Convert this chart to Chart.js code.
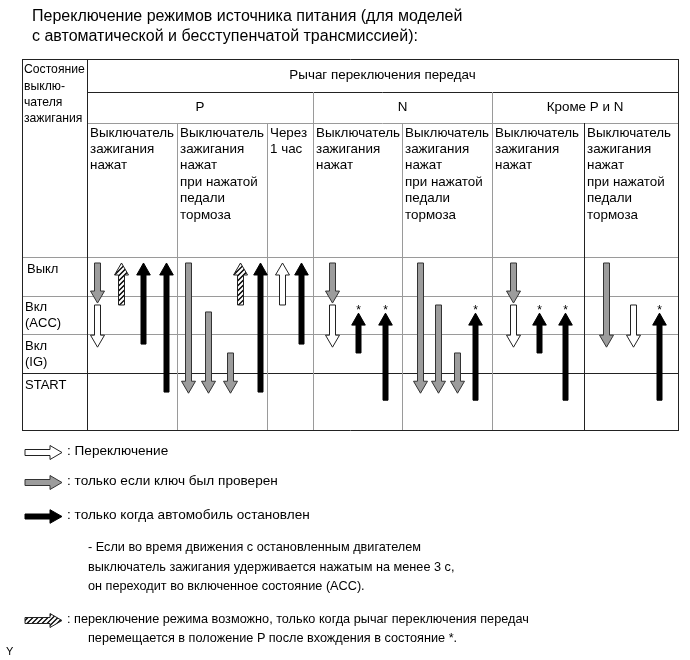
<!DOCTYPE html>
<html>
<head>
<meta charset="utf-8">
<script src="https://cdn.jsdelivr.net/npm/chart.js@4"></script>
<style>
    body { margin: 0; background: #fff; font-family: "Liberation Sans", Arial, sans-serif; color: #000; }
    #wrap { position: relative; width: 690px; height: 660px; overflow: hidden; }
    #myChart { position: absolute; left: 0; top: 0; }
    .t { position: absolute; white-space: nowrap; }
    .title { left: 32px; top: 6px; font-size: 16px; line-height: 20px; }
    .leg { left: 67px; font-size: 12.7px; line-height: 19.5px; }
    .big { font-size: 13.6px; }
</style>
</head>
<body>
<div id="wrap">
    <canvas id="myChart" width="690" height="660"></canvas>
    <div class="t title">Переключение режимов источника питания (для моделей<br>с автоматической и бесступенчатой трансмиссией):</div>
    <div class="t leg big" style="top:441px">: Переключение</div>
    <div class="t leg big" style="top:471px">: только если ключ был проверен</div>
    <div class="t leg big" style="top:505px">: только когда автомобиль остановлен</div>
    <div class="t leg" style="top:538px;left:88px">- Если во время движения с остановленным двигателем<br>выключатель зажигания удерживается нажатым на менее 3 с,<br>он переходит во включенное состояние (ACC).</div>
    <div class="t leg" style="top:610px">: переключение режима возможно, только когда рычаг переключения передач</div>
    <div class="t leg" style="top:629px;left:88px">перемещается в положение P после вхождения в состояние *.</div>
    <div class="t" style="left:6px;top:645px;font-size:11px">Y</div>
</div>
<script>
// Table content
var leverTitle = 'Рычаг переключения передач';
var stateTitle = ['Состояние', 'выклю-', 'чателя', 'зажигания'];
var states = [['Выкл'], ['Вкл', '(ACC)'], ['Вкл', '(IG)'], ['START']];
var leverGroups = ['P', 'N', 'Кроме P и N'];
var subColumns = [
    ['Выключатель', 'зажигания', 'нажат'],
    ['Выключатель', 'зажигания', 'нажат', 'при нажатой', 'педали', 'тормоза'],
    ['Через', '1 час'],
    ['Выключатель', 'зажигания', 'нажат'],
    ['Выключатель', 'зажигания', 'нажат', 'при нажатой', 'педали', 'тормоза'],
    ['Выключатель', 'зажигания', 'нажат'],
    ['Выключатель', 'зажигания', 'нажат', 'при нажатой', 'педали', 'тормоза']
];

// Arrows: x along the table, from -> to on the state axis (0 = Выкл, 1 = ACC, 2 = IG, 3 = START)
var whiteArrows = [
    { x: 75, from: 1.24, to: 2.33 },
    { x: 260, from: 1.24, to: 0.155 },
    { x: 310, from: 1.24, to: 2.33 },
    { x: 491, from: 1.24, to: 2.33 },
    { x: 611, from: 1.24, to: 2.33 }
];
var grayArrows = [
    { x: 75, from: 0.155, to: 1.19 },
    { x: 166, from: 0.155, to: 3.52 },
    { x: 186, from: 1.42, to: 3.52 },
    { x: 208, from: 2.48, to: 3.52 },
    { x: 310, from: 0.155, to: 1.19 },
    { x: 398, from: 0.155, to: 3.52 },
    { x: 416, from: 1.24, to: 3.52 },
    { x: 435, from: 2.48, to: 3.52 },
    { x: 491, from: 0.155, to: 1.19 },
    { x: 584, from: 0.155, to: 2.33 }
];
var blackArrows = [
    { x: 121, from: 2.25, to: 0.155 },
    { x: 144, from: 3.49, to: 0.155 },
    { x: 238, from: 3.49, to: 0.155 },
    { x: 279, from: 2.25, to: 0.155 },
    { x: 336, from: 2.48, to: 1.45, star: true },
    { x: 363, from: 3.70, to: 1.45, star: true },
    { x: 453, from: 3.70, to: 1.45, star: true },
    { x: 517, from: 2.48, to: 1.45, star: true },
    { x: 543, from: 3.70, to: 1.45, star: true },
    { x: 637, from: 3.70, to: 1.45, star: true }
];
var hatchedArrows = [
    { x: 99, from: 1.24, to: 0.155 },
    { x: 218, from: 1.24, to: 0.155 }
];

// Layout of the grid (in x scale units)
var colEdges = [0, 65, 155, 245, 291, 380, 470, 562, 656];
var groupEdges = [[1, 4], [4, 6], [6, 8]];
var FONT = '"Liberation Sans", Arial, sans-serif';

var arrowStyles = {
    white:   { sw: 3, hw: 7, hl: 12, fill: '#fff', stroke: '#222' },
    gray:    { sw: 3, hw: 7, hl: 12, fill: '#9c9c9c', stroke: '#333' },
    black:   { sw: 2.5, hw: 6.8, hl: 12, fill: '#000', stroke: '#000' },
    hatched: { sw: 3, hw: 7, hl: 12, fill: '#fff', stroke: '#222' }
};

function arrowPath(ctx, x1, y1, x2, y2, s) {
    var dx = x2 - x1, dy = y2 - y1, len = Math.hypot(dx, dy);
    var ux = dx / len, uy = dy / len, px = -uy, py = ux;
    var bx = x2 - ux * s.hl, by = y2 - uy * s.hl;
    ctx.beginPath();
    ctx.moveTo(x1 + px * s.sw, y1 + py * s.sw);
    ctx.lineTo(bx + px * s.sw, by + py * s.sw);
    ctx.lineTo(bx + px * s.hw, by + py * s.hw);
    ctx.lineTo(x2, y2);
    ctx.lineTo(bx - px * s.hw, by - py * s.hw);
    ctx.lineTo(bx - px * s.sw, by - py * s.sw);
    ctx.lineTo(x1 - px * s.sw, y1 - py * s.sw);
    ctx.closePath();
}

function drawArrow(ctx, x1, y1, x2, y2, kind) {
    var s = arrowStyles[kind];
    ctx.save();
    arrowPath(ctx, x1, y1, x2, y2, s);
    ctx.fillStyle = s.fill;
    ctx.fill();
    if (kind === 'hatched') {
        ctx.save();
        ctx.clip();
        ctx.strokeStyle = '#000';
        ctx.lineWidth = 1.3;
        var minX = Math.min(x1, x2) - 10, maxX = Math.max(x1, x2) + 10;
        var minY = Math.min(y1, y2) - 10, maxY = Math.max(y1, y2) + 10;
        for (var k = minX + minY - 20; k < maxX + maxY + 20; k += 5) {
            ctx.beginPath();
            ctx.moveTo(minX, k - minX);
            ctx.lineTo(maxX, k - maxX);
            ctx.stroke();
        }
        ctx.restore();
        arrowPath(ctx, x1, y1, x2, y2, s);
    }
    ctx.strokeStyle = s.stroke;
    ctx.lineWidth = 1;
    ctx.stroke();
    ctx.restore();
}

function hLine(ctx, x1, x2, y, color) {
    ctx.strokeStyle = color;
    ctx.beginPath();
    ctx.moveTo(x1, Math.round(y) + 0.5);
    ctx.lineTo(x2, Math.round(y) + 0.5);
    ctx.stroke();
}
function vLine(ctx, x, y1, y2, color) {
    ctx.strokeStyle = color;
    ctx.beginPath();
    ctx.moveTo(Math.round(x) + 0.5, y1);
    ctx.lineTo(Math.round(x) + 0.5, y2);
    ctx.stroke();
}

var tablePlugin = {
    id: 'table',
    beforeDatasetsDraw: function(chart) {
        var ctx = chart.ctx, area = chart.chartArea;
        var xs = chart.scales.x, ys = chart.scales.y;
        var X = function(i) { return xs.getPixelForValue(colEdges[i]); };
        var top = 59, leverBottom = 92, groupBottom = 123, bottom = area.bottom;
        var dark = '#222', light = '#9a9a9a';

        ctx.save();
        ctx.lineWidth = 1;
        // horizontal lines
        hLine(ctx, X(0), X(8) + 1, top, dark);
        hLine(ctx, X(1), X(8), leverBottom, dark);
        hLine(ctx, X(1), X(8), groupBottom, light);
        for (var r = 0; r < states.length; r++) {
            hLine(ctx, X(0), X(8), ys.getPixelForValue(r), r === 3 ? dark : light);
        }
        hLine(ctx, X(0), X(8) + 1, bottom, dark);
        // vertical lines
        var vTop = [top, top, groupBottom, groupBottom, leverBottom, groupBottom, leverBottom, groupBottom, top];
        var vCol = [dark, dark, light, light, light, light, light, dark, dark];
        for (var i = 0; i < colEdges.length; i++) {
            vLine(ctx, X(i), vTop[i], bottom, vCol[i]);
        }

        // header text
        ctx.fillStyle = '#000';
        ctx.textBaseline = 'middle';
        ctx.textAlign = 'left';
        ctx.font = '12.2px ' + FONT;
        stateTitle.forEach(function(t, k) { ctx.fillText(t, X(0) + 2, 70 + k * 16.3); });
        ctx.font = '13.4px ' + FONT;
        ctx.textAlign = 'center';
        ctx.fillText(leverTitle, (X(1) + X(8)) / 2, 75);
        leverGroups.forEach(function(g, k) {
            ctx.fillText(g, (X(groupEdges[k][0]) + X(groupEdges[k][1])) / 2, 107);
        });
        ctx.textAlign = 'left';
        subColumns.forEach(function(lines, c) {
            lines.forEach(function(t, k) { ctx.fillText(t, X(c + 1) + 3, 133 + k * 16.4); });
        });
        ctx.font = '13px ' + FONT;
        states.forEach(function(lines, r) {
            var y0 = ys.getPixelForValue(r) + 12;
            lines.forEach(function(t, k) { ctx.fillText(t, X(0) + (r === 0 ? 5 : 3), y0 + k * 16.2); });
        });
        ctx.restore();
    },
    afterDatasetsDraw: function(chart) {
        var ctx = chart.ctx, xs = chart.scales.x, ys = chart.scales.y;
        chart.data.datasets.forEach(function(ds) {
            ds.arrows.forEach(function(a) {
                var px = Math.round(xs.getPixelForValue(a.x)) + 0.5;
                var y1 = ys.getPixelForValue(a.from), y2 = ys.getPixelForValue(a.to);
                drawArrow(ctx, px, y1, px, y2, ds.kind);
                if (a.star) {
                    ctx.save();
                    ctx.fillStyle = '#000';
                    ctx.font = '12px ' + FONT;
                    ctx.textAlign = 'center';
                    ctx.textBaseline = 'alphabetic';
                    ctx.fillText('*', px, y2 + 0.5);
                    ctx.restore();
                }
            });
        });
        // legend symbols
        drawArrow(ctx, 25, 452.5, 62, 452.5, 'white');
        drawArrow(ctx, 25, 482.5, 62, 482.5, 'gray');
        drawArrow(ctx, 25, 516.5, 62, 516.5, 'black');
        drawArrow(ctx, 25, 620.5, 62, 620.5, 'hatched');
    }
};

function toDataset(list, kind) {
    return {
        label: kind,
        kind: kind,
        arrows: list,
        data: list.map(function(a) { return { x: a.x, y: a.to }; }),
        pointRadius: 0,
        showLine: false
    };
}

var ctx = document.getElementById('myChart').getContext('2d');
var myChart = new Chart(ctx, {
    type: 'scatter',
    data: {
        datasets: [
            toDataset(grayArrows, 'gray'),
            toDataset(whiteArrows, 'white'),
            toDataset(hatchedArrows, 'hatched'),
            toDataset(blackArrows, 'black')
        ]
    },
    options: {
        responsive: false,
        animation: false,
        events: [],
        layout: { padding: { left: 22, right: 12, top: 257, bottom: 230 } },
        scales: {
            x: { type: 'linear', min: 0, max: 656, display: false },
            y: { type: 'linear', min: 0, max: 4.47, reverse: true, display: false }
        },
        plugins: { legend: { display: false }, tooltip: { enabled: false } }
    },
    plugins: [tablePlugin]
});
</script>
</body>
</html>
